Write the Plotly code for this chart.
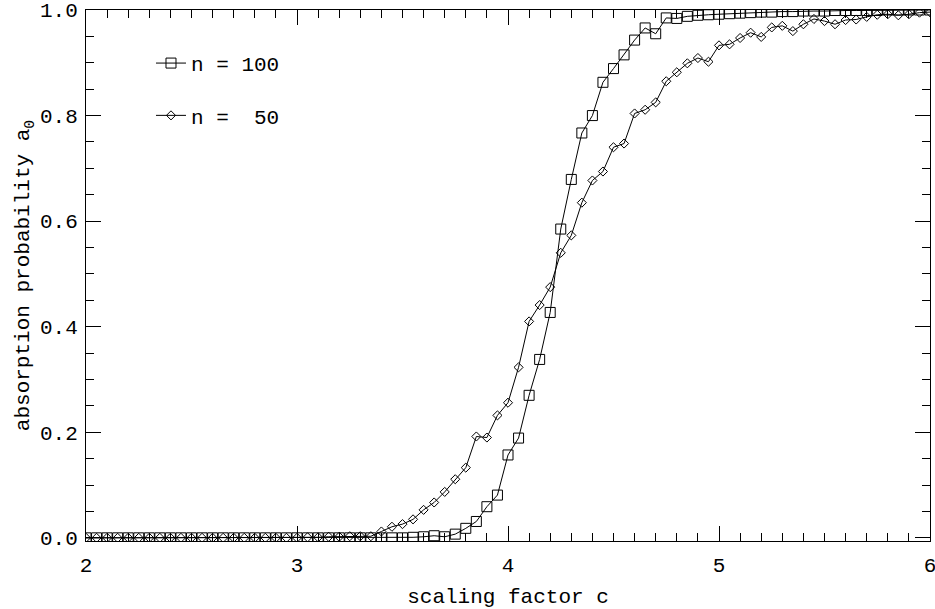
import plotly.graph_objects as go

# scaling factor c (grid used for both runs)
c_values = [
    2.00, 2.05, 2.10, 2.15, 2.20, 2.25, 2.30, 2.35, 2.40, 2.45,
    2.50, 2.55, 2.60, 2.65, 2.70, 2.75, 2.80, 2.85, 2.90, 2.95,
    3.00, 3.05, 3.10, 3.15, 3.20, 3.25, 3.30, 3.35, 3.40, 3.45,
    3.50, 3.55, 3.60, 3.65, 3.70, 3.75, 3.80, 3.85, 3.90, 3.95,
    4.00, 4.05, 4.10, 4.15, 4.20, 4.25, 4.30, 4.35, 4.40, 4.45,
    4.50, 4.55, 4.60, 4.65, 4.70, 4.75, 4.80, 4.85, 4.90, 4.95,
    5.00, 5.05, 5.10, 5.15, 5.20, 5.25, 5.30, 5.35, 5.40, 5.45,
    5.50, 5.55, 5.60, 5.65, 5.70, 5.75, 5.80, 5.85, 5.90, 5.95,
    6.00,
]

# absorption probability, n = 100
a0_n100 = [
    0, 0, 0, 0, 0, 0, 0, 0, 0, 0,
    0, 0, 0, 0, 0, 0, 0, 0, 0, 0,
    0, 0, 0, 0, 0, 0, 0, 0, 0, 0,
    0, 0.001, 0.002, 0.004, 0.002, 0.007, 0.018, 0.031, 0.059, 0.081,
    0.157, 0.189, 0.270, 0.338, 0.427, 0.585, 0.679, 0.767, 0.800, 0.863,
    0.889, 0.915, 0.943, 0.966, 0.955, 0.985, 0.984, 0.988, 0.990, 0.991,
    0.992, 0.993, 0.994, 0.995, 0.996, 0.996, 0.997, 0.997, 0.998, 0.998,
    0.998, 0.999, 0.999, 0.999, 0.999, 0.999, 1.0, 1.0, 1.0, 1.0,
    1.0,
]

# absorption probability, n = 50
a0_n50 = [
    0, 0, 0, 0, 0, 0, 0, 0, 0, 0,
    0, 0, 0, 0, 0, 0, 0, 0, 0, 0,
    0, 0.001, 0.001, 0.002, 0.002, 0.003, 0.003, 0.003, 0.012, 0.021,
    0.026, 0.035, 0.053, 0.067, 0.087, 0.111, 0.133, 0.192, 0.190, 0.232,
    0.256, 0.323, 0.410, 0.441, 0.475, 0.540, 0.573, 0.635, 0.677, 0.694,
    0.740, 0.747, 0.804, 0.811, 0.825, 0.865, 0.882, 0.899, 0.909, 0.902,
    0.933, 0.935, 0.947, 0.957, 0.949, 0.967, 0.970, 0.960, 0.973, 0.983,
    0.979, 0.973, 0.981, 0.982, 0.987, 0.991, 0.992, 0.990, 0.992, 0.995,
    0.996,
]

FONT = "Liberation Mono, Courier New, monospace"

fig = go.Figure()
fig.add_trace(go.Scatter(
    x=c_values, y=a0_n100, mode="lines+markers",
    name="n\u00a0=\u00a0100", legendgroup="a",
    line=dict(color="black", width=1),
    marker=dict(symbol="square-open", size=10, color="black", line=dict(width=1)),
))
fig.add_trace(go.Scatter(
    x=c_values, y=a0_n50, mode="lines+markers",
    name="n\u00a0=\u00a0\u00a050", legendgroup="b",
    line=dict(color="black", width=1),
    marker=dict(symbol="diamond-open", size=7, color="black", line=dict(width=1)),
))

axis_common = dict(
    showline=True, linecolor="black", linewidth=1, mirror="allticks",
    ticks="inside", ticklen=15, tickcolor="black", tickwidth=1,
    showgrid=False, zeroline=False, automargin=False,
    ticklabeloverflow="allow",
    tickfont=dict(family=FONT, size=21, color="black"),
)

fig.update_xaxes(
    range=[2, 6], tickvals=[2, 3, 4, 5, 6], ticktext=["2", "3", "4", "5", "6"],
    minor=dict(ticks="inside", ticklen=8, dtick=0.1, tickcolor="black", showgrid=False),
    title=dict(text="scaling factor c", font=dict(family=FONT, size=21, color="black"), standoff=11),
    ticklabelstandoff=5,
    **axis_common,
)
fig.update_yaxes(
    range=[-0.006, 1.0], tickvals=[0, 0.2, 0.4, 0.6, 0.8, 1.0],
    ticktext=["0.0", "0.2", "0.4", "0.6", "0.8", "1.0"],
    minor=dict(ticks="inside", ticklen=8, dtick=0.05, tickcolor="black", showgrid=False),
    title=dict(text="absorption probability a<sub>0</sub>",
               font=dict(family=FONT, size=21, color="black"), standoff=4),
    ticklabelstandoff=3,
    **axis_common,
)

fig.update_layout(
    width=935, height=609,
    margin=dict(l=86, r=5, t=10, b=68),
    paper_bgcolor="white", plot_bgcolor="white",
    showlegend=True,
    legend=dict(
        x=0.077, y=0.938, xanchor="left", yanchor="top",
        bgcolor="rgba(0,0,0,0)", borderwidth=0,
        font=dict(family=FONT, size=21, color="black"),
        tracegroupgap=22, traceorder="grouped",
    ),
)

# drop the browser's default body margin so the figure sits at the page corner
fig.write_html("out.html", config={"displayModeBar": False},
               post_script="document.body.style.margin='0px';")
